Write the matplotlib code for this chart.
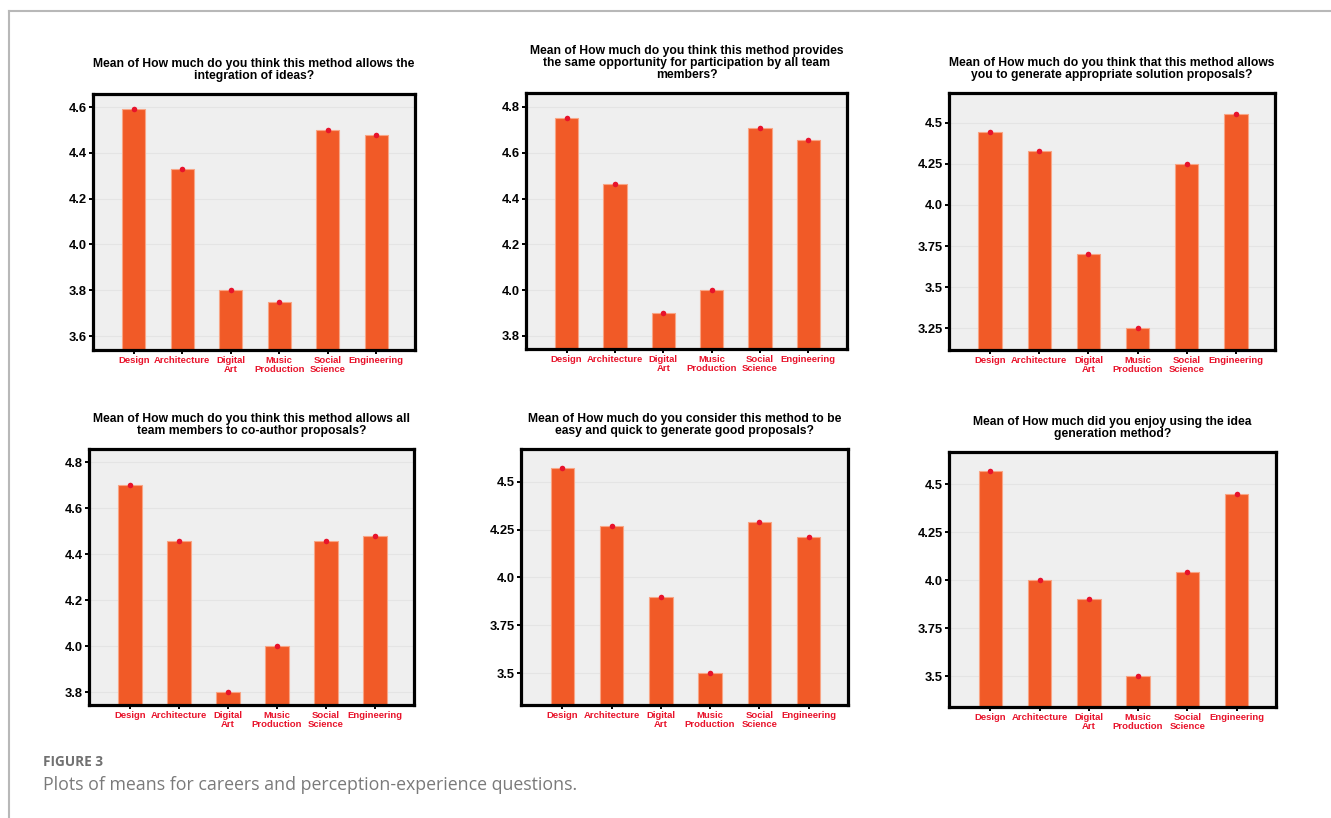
import matplotlib.pyplot as plt
from matplotlib.lines import Line2D

# Careers on the x axis (same for every panel)
careers = ["Design", "Architecture", "Digital\nArt", "Music\nProduction",
           "Social\nScience", "Engineering"]

# Question titles
titles = [
    "Mean of How much do you think this method allows the\nintegration of ideas?",
    "Mean of How much do you think this method provides\nthe same opportunity for participation by all team\nmembers?",
    "Mean of How much do you think that this method allows\nyou to generate appropriate solution proposals?",
    "Mean of How much do you think this method allows all\nteam members to co-author proposals?",
    "Mean of How much do you consider this method to be\neasy and quick to generate good proposals?",
    "Mean of How much did you enjoy using the idea\ngeneration method?",
]

# Mean scores per career
integration = [4.59, 4.33, 3.80, 3.75, 4.50, 4.48]
participation = [4.75, 4.465, 3.90, 4.00, 4.71, 4.655]
solutions = [4.445, 4.33, 3.70, 3.25, 4.25, 4.55]
coauthor = [4.70, 4.46, 3.80, 4.00, 4.46, 4.48]
easy_quick = [4.57, 4.27, 3.90, 3.50, 4.29, 4.21]
enjoy = [4.57, 4.00, 3.90, 3.50, 4.04, 4.45]
means = [integration, participation, solutions, coauthor, easy_quick, enjoy]

# y tick values and labels per panel
yticks = [
    [3.6, 3.8, 4.0, 4.2, 4.4, 4.6],
    [3.8, 4.0, 4.2, 4.4, 4.6, 4.8],
    [3.25, 3.5, 3.75, 4.0, 4.25, 4.5],
    [3.8, 4.0, 4.2, 4.4, 4.6, 4.8],
    [3.5, 3.75, 4.0, 4.25, 4.5],
    [3.5, 3.75, 4.0, 4.25, 4.5],
]
yticklabels = [
    ["3.6", "3.8", "4.0", "4.2", "4.4", "4.6"],
    ["3.8", "4.0", "4.2", "4.4", "4.6", "4.8"],
    ["3.25", "3.5", "3.75", "4.0", "4.25", "4.5"],
    ["3.8", "4.0", "4.2", "4.4", "4.6", "4.8"],
    ["3.5", "3.75", "4.0", "4.25", "4.5"],
    ["3.5", "3.75", "4.0", "4.25", "4.5"],
]
ylims = [(3.539, 4.657), (3.743, 4.861), (3.118, 4.68),
         (3.745, 4.858), (3.335, 4.67), (3.339, 4.667)]

# axes boxes in pixels: left, top, right, bottom
W, H = 1331, 818
boxes = [(93, 94, 415, 350), (526, 93, 847, 349), (949, 93, 1275, 350),
         (89, 449, 414, 705), (521, 449, 848, 705), (949, 452, 1276, 707)]

bar_color = "#f15a27"
dot_color = "#e8132b"
label_red = "#e8132b"

plt.rcParams["font.family"] = ["Liberation Sans", "DejaVu Sans"]

fig = plt.figure(figsize=(W / 100, H / 100), dpi=100)
fig.patch.set_facecolor("white")

for i in range(6):
    l, t, r, b = boxes[i]
    ax = fig.add_axes([l / W, 1 - b / H, (r - l) / W, (b - t) / H])
    ax.set_facecolor("#efefef")
    x = range(len(careers))
    ax.bar(x, means[i], width=0.48, bottom=0, color=bar_color,
           edgecolor="#f8a585", linewidth=0.8, zorder=2)
    ax.scatter(x, means[i], s=16, color=dot_color, zorder=3, linewidths=0)
    ax.set_xlim(-0.84, 5.8)
    ax.set_ylim(*ylims[i])
    ax.set_yticks(yticks[i])
    ax.set_yticklabels(yticklabels[i], fontsize=9.3, fontweight="bold")
    ax.set_xticks(list(x))
    ax.set_xticklabels(careers, fontsize=6.8, fontweight="bold",
                       color=label_red, linespacing=0.95)
    ax.tick_params(axis="both", direction="out", length=3, width=1.4,
                   color="black", pad=1.5)
    ax.grid(axis="y", color="#e4e4e4", linewidth=0.8, zorder=0)
    ax.set_axisbelow(True)
    for sp in ax.spines.values():
        sp.set_linewidth(2.3)
        sp.set_color("black")
    ax.set_title(titles[i], fontsize=8.75, fontweight="bold", linespacing=1.0,
                 pad=11)

# page frame lines
fig.add_artist(Line2D([9 / W, 1], [1 - 11 / H, 1 - 11 / H], color="#b8b8b8",
                      linewidth=1.5, transform=fig.transFigure))
fig.add_artist(Line2D([9 / W, 9 / W], [0, 1 - 11 / H], color="#b8b8b8",
                      linewidth=1.5, transform=fig.transFigure))

# caption
fig.text(43 / W, 1 - 762 / H, "FIGURE 3", fontsize=9.8, fontweight="bold",
         color="#717171", family=["Open Sans", "DejaVu Sans"], va="center")
fig.text(43 / W, 1 - 785 / H,
         "Plots of means for careers and perception-experience questions.",
         fontsize=12.8, color="#7a7a7a", family=["Open Sans", "DejaVu Sans"],
         va="center")

plt.savefig("out.png", dpi=100)
